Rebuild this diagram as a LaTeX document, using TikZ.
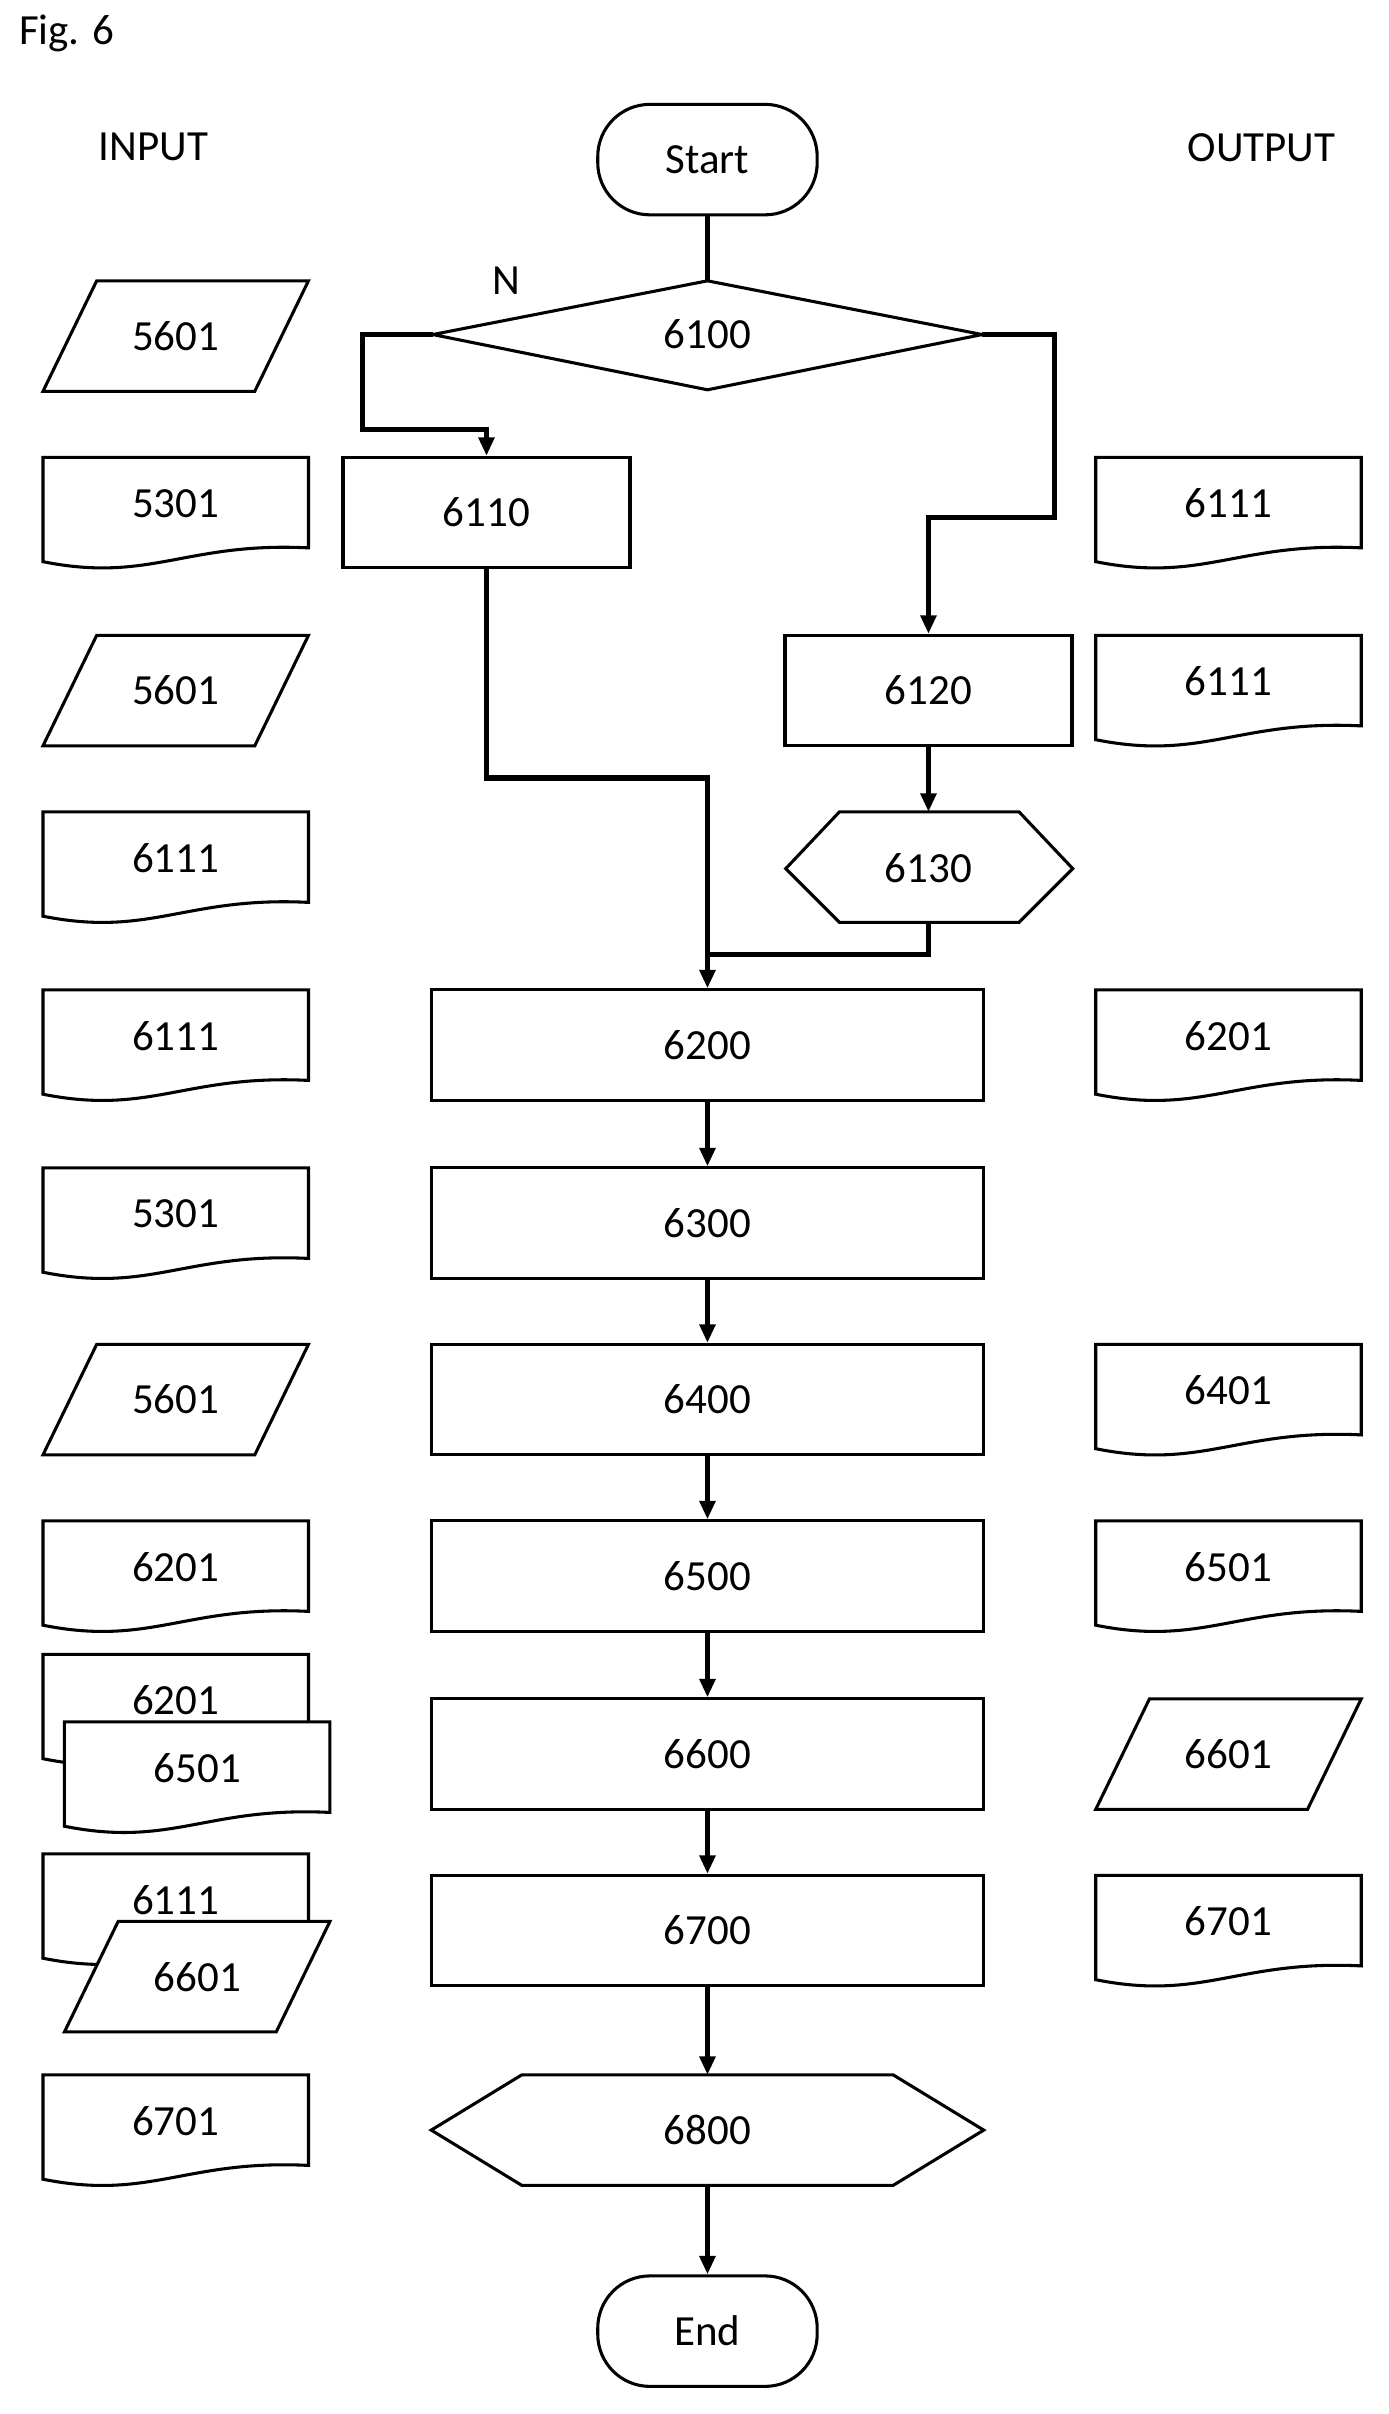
\documentclass[tikz,border=0pt]{standalone}
\usepackage{fontspec}
\setmainfont{Carlito}
\usetikzlibrary{arrows.meta}
\begin{document}
\begin{tikzpicture}[x=0.5pt,y=-0.5pt,
  box/.style={draw,line width=1pt,rectangle,minimum height=36pt,font=\fontsize{14}{16}\selectfont,inner sep=0},
  shp/.style={draw,line width=1pt,fill=white},
  lbl/.style={font=\fontsize{14}{16}\selectfont,inner sep=0},
  con/.style={line width=1.7pt},
  arr/.style={con,-{Triangle[length=6pt,width=5pt]}}]
\useasboundingbox (0,0) rectangle (905,1573);
\node[lbl,anchor=west] (fig) at (12,22) {Fig. 6};
\node[lbl] (in) at (100,96) {INPUT};
\node[lbl] (out) at (822,96) {OUTPUT};
% doc and para macros
\def\doc#1#2#3#4{% left, top, text, name
  \pgfmathsetmacro\r{#1+173}
  \draw[shp] (#1,#2) -- (\r,#2) -- (\r,#2+59) .. controls (\r-80,#2+55) and (#1+70,#2+82) .. (#1,#2+68) -- cycle;
  \node[lbl] (#4) at (#1+86.5,#2+30) {#3};}
\def\para#1#2#3#4{% left, top, text, name
  \draw[shp] (#1+35,#2) -- (#1+173,#2) -- (#1+138,#2+72) -- (#1,#2+72) -- cycle;
  \node[lbl] (#4) at (#1+86.5,#2+36) {#3};}
% left column
\para{28}{183}{5601}{i1}
\doc{28}{298}{5301}{i2}
\para{28}{414}{5601}{i3}
\doc{28}{529}{6111}{i4}
\doc{28}{645}{6111}{i5}
\doc{28}{761}{5301}{i6}
\para{28}{876}{5601}{i7}
\doc{28}{991}{6201}{i8}
\doc{28}{1078}{6201}{i9}
\doc{42}{1122}{6501}{i10}
\doc{28}{1208}{6111}{i11}
\para{42}{1252}{6601}{i12}
\doc{28}{1352}{6701}{i13}
% right column
\doc{714}{298}{6111}{o1}
\doc{714}{414}{6111}{o2}
\doc{714}{645}{6201}{o3}
\doc{714}{876}{6401}{o4}
\doc{714}{991}{6501}{o5}
\para{714}{1107}{6601}{o6}
\doc{714}{1222}{6701}{o7}
% main flow
\node[box,rounded corners=17pt,minimum width=71.5pt] (start) at (461,104) {Start};
\coordinate (dT) at (461,183); \coordinate (dL) at (282,218);
\coordinate (dR) at (640,218); \coordinate (dB) at (461,254);
\draw[shp] (dT) -- (dR) -- (dB) -- (dL) -- cycle;
\node[lbl] (d6100) at (461,218) {6100};
\node[lbl] (N) at (330,183) {N};
\node[box,minimum width=93.5pt] (b6110) at (317,334) {6110};
\node[box,minimum width=93.5pt] (b6120) at (605,450) {6120};
\draw[shp] (512,566) -- (547,529) -- (664,529) -- (699,566) -- (664,601) -- (547,601) -- cycle;
\node[lbl] (h6130) at (605,566) {6130};
\coordinate (h6130t) at (605,529); \coordinate (h6130b) at (605,601);
\foreach \t/\y in {6200/681,6300/797,6400/912,6500/1027,6600/1143,6700/1258}
  \node[box,minimum width=180pt] (b\t) at (461,\y) {\t};
\draw[shp] (281,1388) -- (340,1352) -- (582,1352) -- (641,1388) -- (582,1424) -- (340,1424) -- cycle;
\node[lbl] (h6800) at (461,1388) {6800};
\coordinate (h6800t) at (461,1352); \coordinate (h6800b) at (461,1424);
\node[box,rounded corners=17pt,minimum width=71.5pt] (end) at (461,1519) {End};
% connectors
\draw[con] (start.south) -- (dT);
\draw[arr] (dL) -- (236,218) -- (236,280) -- (317,280) -- (b6110.north);
\draw[arr] (dR) -- (687,218) -- (687,337) -- (605,337) -- (b6120.north);
\draw[arr] (b6110.south) -- (317,507) -- (461,507) -- (b6200.north);
\draw[arr] (b6120.south) -- (h6130t);
\draw[con] (h6130b) -- (605,622) -- (461,622);
\draw[arr] (b6200) -- (b6300);
\draw[arr] (b6300) -- (b6400);
\draw[arr] (b6400) -- (b6500);
\draw[arr] (b6500) -- (b6600);
\draw[arr] (b6600) -- (b6700);
\draw[arr] (b6700) -- (h6800t);
\draw[arr] (h6800b) -- (end.north);
\end{tikzpicture}
\end{document}
